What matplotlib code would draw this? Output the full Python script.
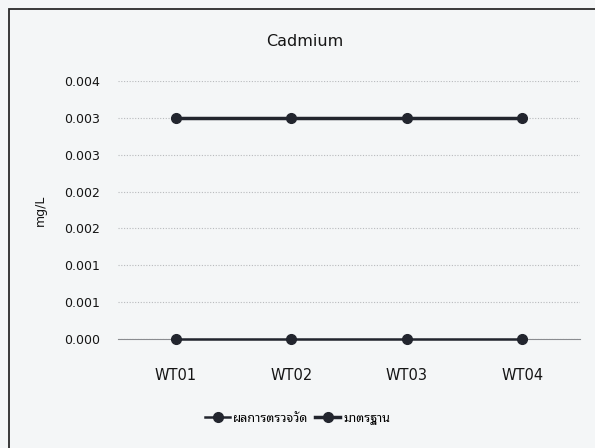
import numpy as np
import matplotlib

matplotlib.use('Agg')
import matplotlib.pyplot as plt
from matplotlib.patches import Rectangle

# data
stations = ['WT01', 'WT02', 'WT03', 'WT04']
measured = [0.0, 0.0, 0.0, 0.0]
standard = [0.003, 0.003, 0.003, 0.003]
y_ticks = [0.0, 0.0005, 0.001, 0.0015, 0.002, 0.0025, 0.003, 0.0035]
y_tick_labels = ['0.000', '0.001', '0.001', '0.002', '0.002', '0.003', '0.003', '0.004']

bg = '#f4f6f7'
dark = '#22252e'
txt = '#151515'
plt.rcParams['font.family'] = ['DejaVu Sans', 'Noto Sans Thai Looped']

fig = plt.figure(figsize=(5.95, 4.48), dpi=100, facecolor=bg)
ax = fig.add_axes([118 / 595, 1 - 339 / 448, 462 / 595, 258 / 448])
ax.set_facecolor(bg)

x = np.arange(len(stations))
ax.plot(x, measured, color=dark, lw=1.8, marker='o', ms=7,
        label='ผลการตรวจวัด', clip_on=False, zorder=4)
ax.plot(x, standard, color=dark, lw=2.5, marker='o', ms=7,
        label='มาตรฐาน', clip_on=False, zorder=4)

ax.set_xlim(-0.5, len(stations) - 0.5)
ax.set_ylim(0, 0.0035)
ax.set_yticks(y_ticks)
ax.set_yticklabels(y_tick_labels)
ax.set_xticks(x)
ax.set_xticklabels(stations)
ax.tick_params(axis='y', length=0, pad=13, labelsize=9, colors=txt)
ax.tick_params(axis='x', length=0, pad=21, labelsize=10.5, colors=txt)

ax.grid(axis='y', color='#b8babd', lw=0.8, ls=(0, (1, 1.5)))
ax.set_axisbelow(True)
for s in ['top', 'right', 'left']:
    ax.spines[s].set_visible(False)
ax.spines['bottom'].set_color('#8a8c90')

fig.text(305 / 595, 1 - 41 / 448, 'Cadmium', fontsize=11.5, color=txt,
         ha='center', va='center')
ax.set_ylabel('mg/L', fontsize=9, color=txt)
ax.yaxis.set_label_coords(-0.155, 0.5)

fig.legend(loc='center', bbox_to_anchor=(0.5, 1 - 418 / 448), ncol=2,
           frameon=False, fontsize=9, handlelength=2.0, columnspacing=0.6,
           handletextpad=0.2, prop={'weight': 'bold', 'size': 9})

# chart border
fig.patches.append(Rectangle((9 / 595, -0.05), 1.1, 1 - 9 / 448 + 0.05,
                             transform=fig.transFigure, fill=False,
                             edgecolor='#2a2a2a', lw=1.3, clip_on=False))

plt.savefig('out.png', dpi=100, facecolor=bg)
plt.close()
